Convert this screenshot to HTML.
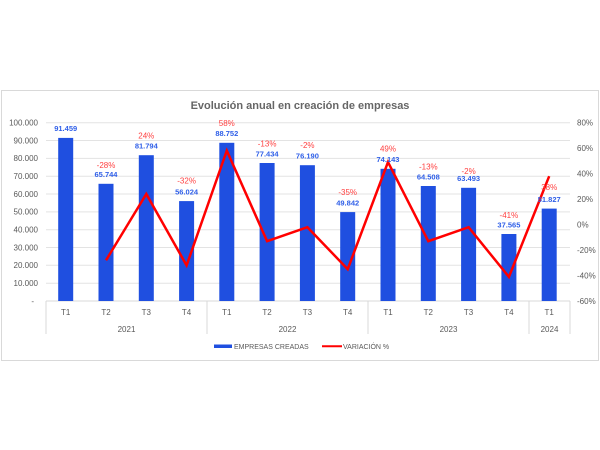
<!DOCTYPE html>
<html><head><meta charset="utf-8"><style>
html,body{margin:0;padding:0;background:#fff;}
svg{display:block;font-family:"Liberation Sans",sans-serif;}
</style></head><body>
<svg width="600" height="450" viewBox="0 0 600 450" xmlns="http://www.w3.org/2000/svg">
<rect x="1.5" y="90.5" width="597" height="270" fill="#fff" stroke="#d9d9d9"/>
<text x="300" y="109" text-anchor="middle" font-size="11" font-weight="bold" fill="#666">Evolución anual en creación de empresas</text>
<g stroke="#e3e3e3" stroke-width="1">
<line x1="46" x2="570" y1="122.7" y2="122.7"/><line x1="46" x2="570" y1="140.5" y2="140.5"/>
<line x1="46" x2="570" y1="158.4" y2="158.4"/><line x1="46" x2="570" y1="176.2" y2="176.2"/>
<line x1="46" x2="570" y1="194.0" y2="194.0"/><line x1="46" x2="570" y1="211.9" y2="211.9"/>
<line x1="46" x2="570" y1="229.7" y2="229.7"/><line x1="46" x2="570" y1="247.5" y2="247.5"/>
<line x1="46" x2="570" y1="265.3" y2="265.3"/><line x1="46" x2="570" y1="283.2" y2="283.2"/>
</g>
<line x1="46" x2="570" y1="301" y2="301" stroke="#d9d9d9"/>
<g font-size="8" fill="#595959" text-anchor="end">
<text x="38" y="125.5">100.000</text><text x="38" y="143.3">90.000</text><text x="38" y="161.2">80.000</text>
<text x="38" y="179">70.000</text><text x="38" y="196.8">60.000</text><text x="38" y="214.7">50.000</text>
<text x="38" y="232.5">40.000</text><text x="38" y="250.3">30.000</text><text x="38" y="268.1">20.000</text>
<text x="38" y="286">10.000</text><text x="34" y="303.8">-</text>
</g>
<g font-size="8" fill="#595959" text-anchor="start">
<text x="577" y="125.5">80%</text><text x="577" y="151">60%</text><text x="577" y="176.5">40%</text>
<text x="577" y="202">20%</text><text x="577" y="227.5">0%</text><text x="577" y="253">-20%</text>
<text x="577" y="278.5">-40%</text><text x="577" y="304">-60%</text>
</g>
<g fill="#1f4fe0">
<rect x="58.2" y="137.9" width="15" height="163.1"/>
<rect x="98.5" y="183.8" width="15" height="117.2"/>
<rect x="138.8" y="155.2" width="15" height="145.8"/>
<rect x="179.1" y="201.1" width="15" height="99.9"/>
<rect x="219.3" y="142.8" width="15" height="158.2"/>
<rect x="259.6" y="163.0" width="15" height="138.0"/>
<rect x="299.9" y="165.2" width="15" height="135.8"/>
<rect x="340.2" y="212.1" width="15" height="88.9"/>
<rect x="380.5" y="168.8" width="15" height="132.2"/>
<rect x="420.8" y="186.0" width="15" height="115.0"/>
<rect x="461.1" y="187.8" width="15" height="113.2"/>
<rect x="501.4" y="234.0" width="15" height="67.0"/>
<rect x="541.7" y="208.6" width="15" height="92.4"/>
</g>
<polyline fill="none" stroke="#ff0000" stroke-width="2.5" stroke-linejoin="miter" points="106,260.3 146.3,194.0 186.6,265.4 226.8,150.6 267.1,241.2 307.4,227.2 347.7,269.2 388,162.1 428.3,241.2 468.6,227.2 508.9,276.9 549.2,176.2"/>
<g font-size="7.5" font-weight="bold" fill="#2f5fe8" text-anchor="middle">
<text x="65.7" y="131">91.459</text><text x="106" y="177">65.744</text><text x="146.3" y="148.5">81.794</text>
<text x="186.6" y="194.5">56.024</text><text x="226.8" y="136">88.752</text><text x="267.1" y="156.5">77.434</text>
<text x="307.4" y="158.5">76.190</text><text x="347.7" y="205.5">49.842</text><text x="388" y="162">74.143</text>
<text x="428.3" y="179.5">64.508</text><text x="468.6" y="181">63.493</text><text x="508.9" y="227.5">37.565</text>
<text x="549.2" y="202">51.827</text>
</g>
<g font-size="8" fill="#ff4040" text-anchor="middle">
<text x="106" y="168">-28%</text><text x="146.3" y="138.5">24%</text><text x="186.6" y="183.5">-32%</text>
<text x="226.8" y="126">58%</text><text x="267.1" y="146.5">-13%</text><text x="307.4" y="148">-2%</text>
<text x="347.7" y="195">-35%</text><text x="388" y="151.5">49%</text><text x="428.3" y="169.5">-13%</text>
<text x="468.6" y="174">-2%</text><text x="508.9" y="218">-41%</text><text x="549.2" y="190">38%</text>
</g>
<g stroke="#d9d9d9">
<line x1="46" x2="46" y1="301" y2="334"/><line x1="207" x2="207" y1="301" y2="334"/>
<line x1="368" x2="368" y1="301" y2="334"/><line x1="529" x2="529" y1="301" y2="334"/>
<line x1="570" x2="570" y1="301" y2="334"/>
</g>
<g font-size="8" fill="#595959" text-anchor="middle">
<text x="65.7" y="315">T1</text><text x="106" y="315">T2</text><text x="146.3" y="315">T3</text><text x="186.6" y="315">T4</text>
<text x="226.8" y="315">T1</text><text x="267.1" y="315">T2</text><text x="307.4" y="315">T3</text><text x="347.7" y="315">T4</text>
<text x="388" y="315">T1</text><text x="428.3" y="315">T2</text><text x="468.6" y="315">T3</text><text x="508.9" y="315">T4</text>
<text x="549.2" y="315">T1</text>
<text x="126.5" y="332">2021</text><text x="287.5" y="332">2022</text><text x="448.5" y="332">2023</text><text x="549.5" y="332">2024</text>
</g>
<rect x="214" y="344.5" width="18" height="3.5" fill="#1f4fe0"/>
<text x="234" y="349" font-size="7" fill="#595959">EMPRESAS CREADAS</text>
<line x1="322" x2="342" y1="346.3" y2="346.3" stroke="#ff0000" stroke-width="2"/>
<text x="343" y="349" font-size="7" fill="#595959">VARIACIÓN %</text>
</svg>
</body></html>
